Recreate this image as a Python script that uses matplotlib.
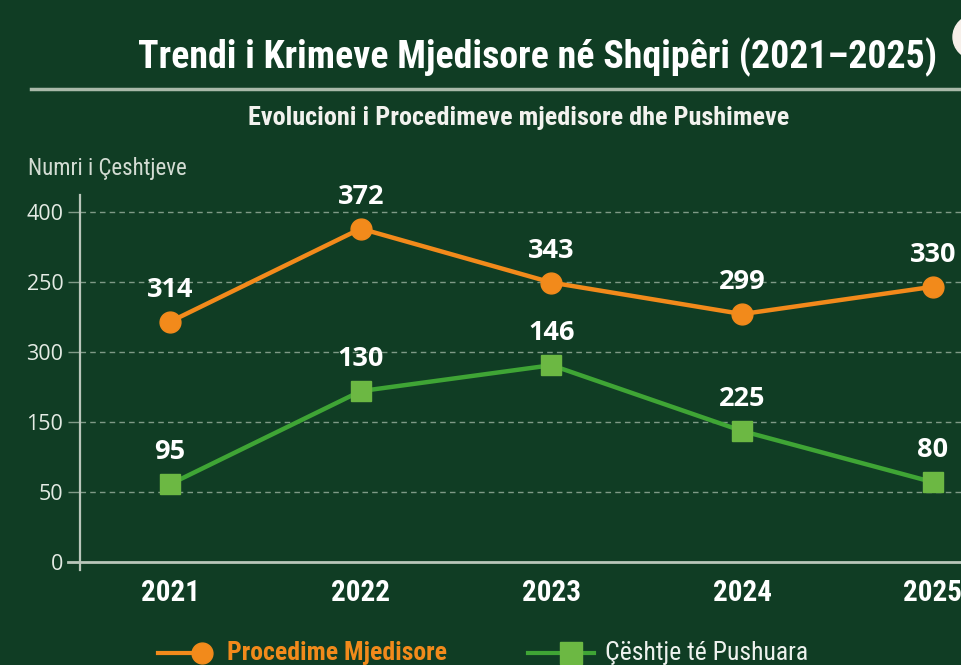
import matplotlib
matplotlib.use("Agg")
import matplotlib.pyplot as plt
from matplotlib.lines import Line2D
from matplotlib.patches import Circle

# data
years = ["2021", "2022", "2023", "2024", "2025"]
procedime = [314, 372, 343, 299, 330]
pushuara = [95, 130, 146, 225, 80]
# heights as drawn in the picture (in grid steps above the zero line)
procedime_pos = [3.43, 4.76, 3.99, 3.54, 3.93]
pushuara_pos = [1.11, 2.44, 2.81, 1.87, 1.14]
ytick_labels = ["0", "50", "150", "300", "250", "400"]

BG = "#103d24"
ORANGE = "#f28a1b"
GREEN_LINE = "#3fa535"
GREEN_MARK = "#6cb843"
NARROW = ["Roboto Condensed", "Roboto", "DejaVu Sans"]
SANS = ["Open Sans", "DejaVu Sans"]

fig = plt.figure(figsize=(9.61, 6.65), dpi=100, facecolor=BG)
ax = fig.add_axes([80 / 961, (665 - 562) / 665, 881 / 961, 367 / 665])
ax.set_facecolor("none")


def fit_width(t, width_px):
    # shrink/grow a text so it spans about width_px pixels
    r = fig.canvas.get_renderer()
    w = t.get_window_extent(renderer=r).width
    t.set_fontsize(t.get_fontsize() * width_px / w)


x = list(range(len(years)))

ax.plot(x, procedime_pos, color=ORANGE, lw=3.2, marker="o", ms=15,
        mfc=ORANGE, mec=ORANGE, zorder=4, clip_on=False)
ax.plot(x, pushuara_pos, color=GREEN_LINE, lw=3.2, marker="s", ms=14,
        mfc=GREEN_MARK, mec=GREEN_MARK, zorder=4, clip_on=False)

for xi, yi, v in zip(x, procedime_pos, procedime):
    ax.annotate(str(v), (xi, yi), xytext=(0, 23), textcoords="offset points",
                ha="center", va="center", fontsize=19.5, fontweight="bold",
                color="white", family=SANS, zorder=5)
for xi, yi, v in zip(x, pushuara_pos, pushuara):
    ax.annotate(str(v), (xi, yi), xytext=(0, 23), textcoords="offset points",
                ha="center", va="center", fontsize=19.5, fontweight="bold",
                color="white", family=SANS, zorder=5)

ax.set_xlim(-0.472, 4.147)
ax.set_ylim(0, 5.24)

ax.set_yticks(range(len(ytick_labels)))
ax.set_yticklabels(ytick_labels, family=SANS, fontsize=15.5, color="#e4ebe4")
ax.set_xticks(x)
ax.set_xticklabels(years, family=NARROW, fontsize=21, fontweight="bold", color="white")
ax.tick_params(axis="y", length=9, width=1, color="#7f9a86", pad=3)
ax.tick_params(axis="x", length=0, pad=12)

for s in ax.spines.values():
    s.set_visible(False)

for yv in range(1, len(ytick_labels)):
    ax.axhline(yv, color="#7f9a86", lw=1, ls=(0, (4, 3)), zorder=1)
ax.axhline(0, xmin=-0.0136, xmax=1, color="#b9c6ba", lw=2, zorder=2, clip_on=False)
ax.axvline(-0.472, ymin=-0.022, ymax=1, color="#b9c6ba", lw=1.6, zorder=2, clip_on=False)

# titles
title = fig.text(538 / 961, 1 - 57 / 665, "Trendi i Krimeve Mjedisore né Shqipêri (2021–2025)",
                 ha="center", va="center", fontsize=24, fontweight="bold", color="white",
                 family=NARROW)
fit_width(title, 800)
fig.add_artist(Line2D([31 / 961, 1], [1 - 89 / 665] * 2, color="#a9b9a9", lw=2.5))
sub = fig.text(519 / 961, 1 - 118 / 665, "Evolucioni i Procedimeve mjedisore dhe Pushimeve",
               ha="center", va="center", fontsize=15, fontweight="bold", color="#f2f2ee",
               family=NARROW)
fit_width(sub, 542)
fig.text(28 / 961, 1 - 168 / 665, "Numri i Çeshtjeve",
         ha="left", va="center", fontsize=16.5, color="#d3dcd3", family=NARROW)

# partial circle at the top right corner
fig.add_artist(Circle((9.75, 6.28), 0.22, transform=fig.dpi_scale_trans,
                      color="#f6efe9", zorder=10))

# legend
fig.add_artist(Line2D([158 / 961, 202 / 961], [1 - 653 / 665] * 2, color=ORANGE, lw=3))
fig.add_artist(Line2D([202 / 961], [1 - 653 / 665], marker="o", ms=15, color=ORANGE))
fig.text(227 / 961, 1 - 653 / 665, "Procedime Mjedisore", ha="left", va="center",
         fontsize=18.5, fontweight="bold", color=ORANGE, family=NARROW)
fig.add_artist(Line2D([528 / 961, 594 / 961], [1 - 653 / 665] * 2, color=GREEN_LINE, lw=3))
fig.add_artist(Line2D([571 / 961], [1 - 653 / 665], marker="s", ms=16, color=GREEN_MARK))
fig.text(605 / 961, 1 - 653 / 665, "Çështje té Pushuara", ha="left", va="center",
         fontsize=18.5, color="#eef2ee", family=NARROW)

fig.savefig("out.png", dpi=100, facecolor=BG)
